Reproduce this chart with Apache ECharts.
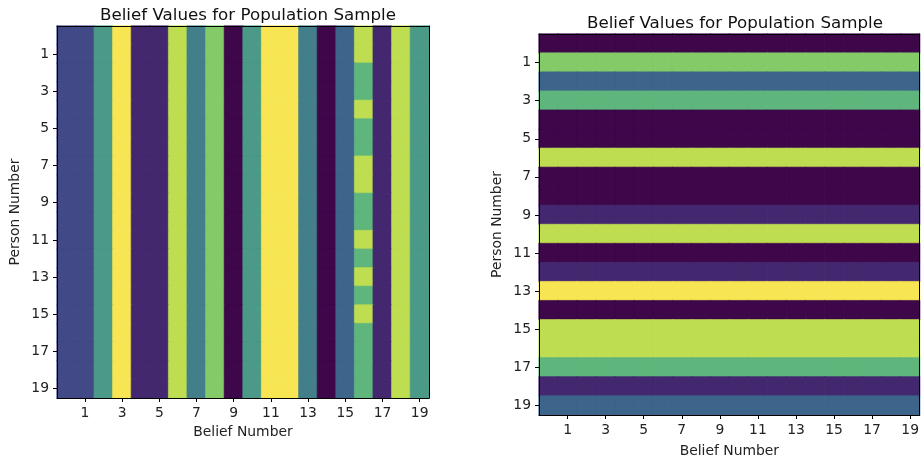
<!DOCTYPE html>
<html>
<head>
<meta charset="utf-8">
<script src="https://cdn.jsdelivr.net/npm/echarts@6/dist/echarts.min.js"></script>
<style>html,body{margin:0;padding:0;background:#fff}#c{width:922px;height:463px}</style>
</head>
<body>
<div id="c"></div>
<script>
// Indices 0..19
const beliefs = Array.from({length: 20}, (_, i) => String(i));
const persons = Array.from({length: 20}, (_, i) => String(i));
// Left chart: value per belief (column), same for every person, except belief 16
const leftBeliefLevels = [2,2,5,9,1,1,8,4,7,0,5,9,9,4,0,3,null,1,8,5];
// Belief 16 value per person (row)
const leftBelief16ByPerson = [8,8,6,6,8,6,6,8,8,6,6,8,6,8,6,8,6,6,6,6];
// Right chart: value per person (row), same for every belief
const rightPersonLevels = [0,7,3,6,0,0,8,0,0,1,8,0,1,9,0,8,8,6,1,3];
// Observed viridis-like colours, level 0..9
const levelColors = ['#3e074a','#43286f','#414986','#3d648a','#427f8a','#4b9a88','#5fb67c','#85ca68','#bedd50','#f7e553'];

const leftData = [], rightData = [];
function cell(b, p, v) {
  // border in the cell's own colour hides anti-aliasing seams between cells
  return {value: [b, p, v], itemStyle: {borderColor: levelColors[v], borderWidth: 0.6}};
}
for (let p = 0; p < 20; p++) {
  for (let b = 0; b < 20; b++) {
    const v = b === 16 ? leftBelief16ByPerson[p] : leftBeliefLevels[b];
    leftData.push(cell(b, p, v));
    rightData.push(cell(b, p, rightPersonLevels[p]));
  }
}

const font = 'DejaVu Sans';
const oddInterval = (i) => i % 2 === 1;
function xAx(grid, gap) {
  return {
    type: 'category', data: beliefs, gridIndex: grid, position: 'bottom',
    name: 'Belief Number', nameLocation: 'middle', nameGap: gap,
    nameTextStyle: {fontFamily: font, fontSize: 13.9, color: '#222'},
    axisLine: {show: true, lineStyle: {color: '#000', width: 1}},
    axisTick: {show: true, alignWithLabel: true, interval: oddInterval, length: 4, lineStyle: {color: '#000'}},
    axisLabel: {interval: oddInterval, fontFamily: font, fontSize: 13.9, color: '#222', margin: 8},
    splitLine: {show: false}, z: 10
  };
}
function yAx(grid) {
  return {
    type: 'category', data: persons, gridIndex: grid, inverse: true, position: 'left',
    name: 'Person Number', nameLocation: 'middle', nameGap: 35,
    nameTextStyle: {fontFamily: font, fontSize: 13.9, color: '#222'},
    axisLine: {show: true, lineStyle: {color: '#000', width: 1}},
    axisTick: {show: true, alignWithLabel: true, interval: oddInterval, length: 4, lineStyle: {color: '#000'}},
    axisLabel: {interval: oddInterval, fontFamily: font, fontSize: 13.9, color: '#222', margin: 8},
    splitLine: {show: false}, z: 10
  };
}
function borderX(grid) {
  return {type: 'category', data: beliefs, gridIndex: grid, position: 'top',
    axisLine: {show: true, lineStyle: {color: '#000', width: 1}}, axisTick: {show: false}, axisLabel: {show: false}, z: 10};
}
function borderY(grid) {
  return {type: 'category', data: persons, gridIndex: grid, inverse: true, position: 'right',
    axisLine: {show: true, lineStyle: {color: '#000', width: 1}}, axisTick: {show: false}, axisLabel: {show: false}, z: 10};
}

const chart = echarts.init(document.getElementById('c'), null, {renderer: 'canvas'});
chart.setOption({
  animation: false,
  backgroundColor: '#fff',
  title: [
    {text: 'Belief Values for Population Sample', left: 243, top: 2, textAlign: 'center',
     textStyle: {fontFamily: font, fontSize: 16.7, fontWeight: 'normal', color: '#111'}},
    {text: 'Belief Values for Population Sample', left: 730, top: 10, textAlign: 'center',
     textStyle: {fontFamily: font, fontSize: 16.7, fontWeight: 'normal', color: '#111'}}
  ],
  grid: [
    {left: 57, right: 493, top: 26, bottom: 65},
    {left: 539, right: 1, top: 34, bottom: 48}
  ],
  xAxis: [xAx(0, 27), xAx(1, 29), borderX(0), borderX(1)],
  yAxis: [yAx(0), yAx(1), borderY(0), borderY(1)],
  visualMap: {
    type: 'piecewise', show: false, dimension: 2,
    pieces: levelColors.map((c, i) => ({value: i, color: c}))
  },
  series: [
    {type: 'heatmap', xAxisIndex: 0, yAxisIndex: 0, data: leftData, emphasis: {disabled: true}},
    {type: 'heatmap', xAxisIndex: 1, yAxisIndex: 1, data: rightData, emphasis: {disabled: true}}
  ]
});
</script>
</body>
</html>
